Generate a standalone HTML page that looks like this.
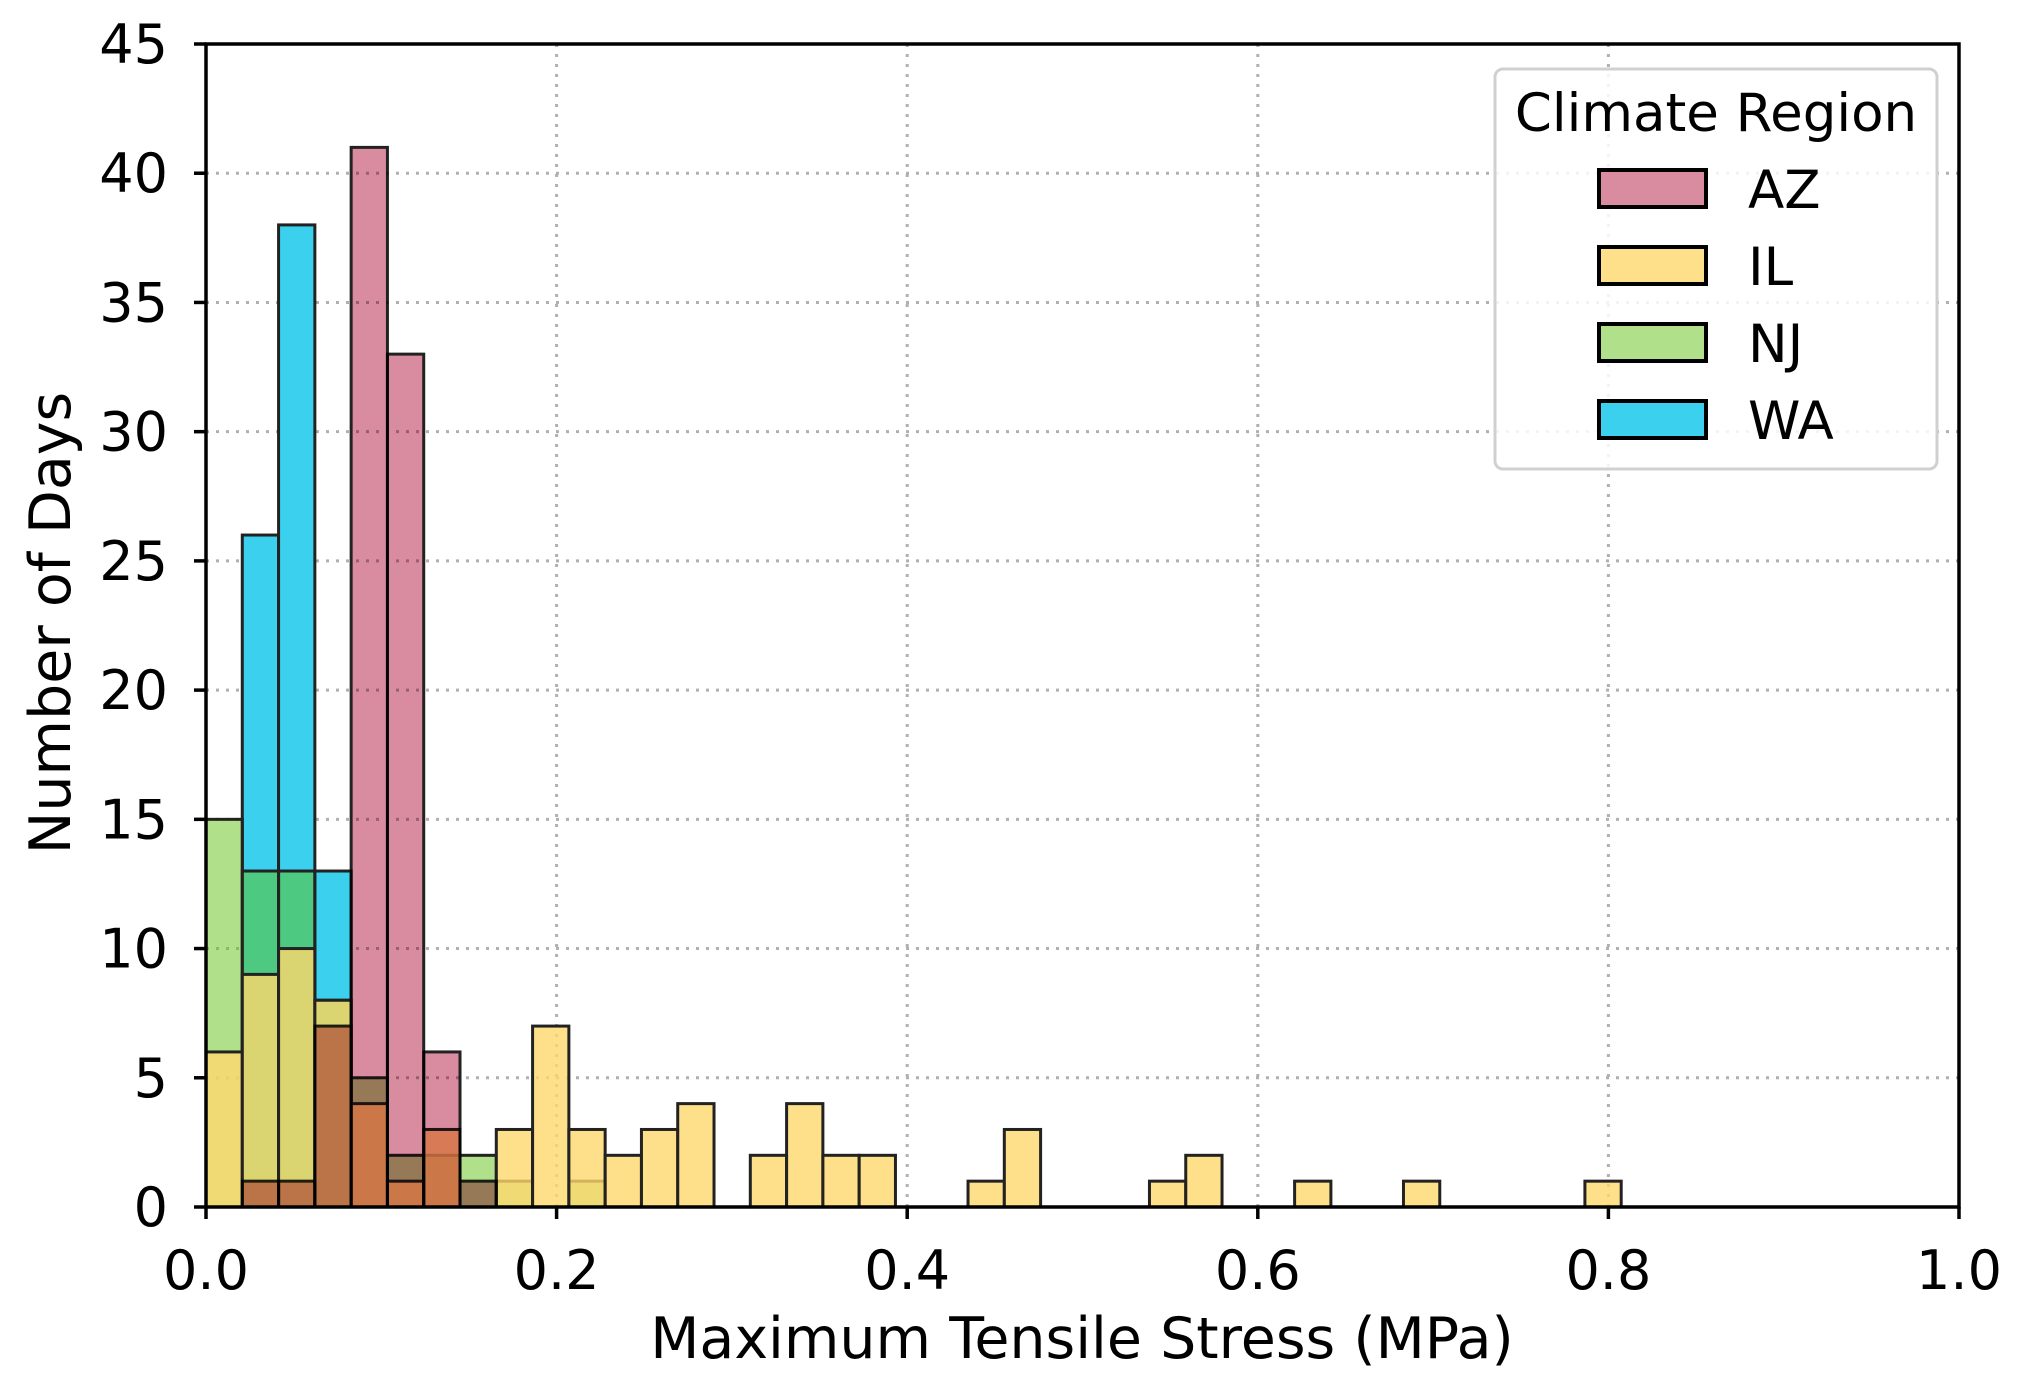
<!DOCTYPE html>
<html><head><meta charset="utf-8"><style>
html,body{margin:0;padding:0;background:#fff}
svg{display:block;font-family:"DejaVu Sans","Liberation Sans",sans-serif}
#bars rect.az{mix-blend-mode:multiply}
</style></head><body>
<svg id="chart" width="2020" height="1388" viewBox="0 0 2020 1388" xmlns="http://www.w3.org/2000/svg">
<rect x="0" y="0" width="2020" height="1388" fill="#fff"/>
<g id="grid"></g>
<g id="bars"></g>
<g id="axes"></g>
<text x="1082" y="1358" font-size="57" text-anchor="middle" fill="#000">Maximum Tensile Stress (MPa)</text>
<text transform="translate(70,623) rotate(-90)" font-size="57" text-anchor="middle" fill="#000">Number of Days</text>
<g id="legend">
<rect x="1495" y="69" width="442" height="400" rx="8" fill="#fff" fill-opacity="0.85" stroke="#d0d0d0" stroke-width="3"/>
<text x="1716" y="131" font-size="53" text-anchor="middle">Climate Region</text>
</g>
</svg>
<script>
const binWidth = 0.0207;
const regions = ["AZ","IL","NJ","WA"];
const colors = ["#d98ba0","#ffd86d","#61c115","#3ad0ee"];
const opacities = [1,0.8,0.5,1];
const legendColors = ["#d98ba0","#ffe08a","#b0e08a","#3ad0ee"];
const azCounts = [0,1,1,7,41,33,6,1];
const ilCounts = [6,9,10,8,4,1,3,0,3,7,3,2,3,4,0,2,4,2,2,0,0,1,3,0,0,0,1,2,0,0,1,0,0,1,0,0,0,0,1];
const njCounts = [15,13,13,8,5,2,2,2,1,0,1];
const waCounts = [0,26,38,13];
const seriesCounts = [azCounts, ilCounts, njCounts, waCounts];
const xTicks = [0,0.2,0.4,0.6,0.8,1.0];
const xTickLabels = ["0.0","0.2","0.4","0.6","0.8","1.0"];
const yTicks = [0,5,10,15,20,25,30,35,40,45];

const X0=206, X1=1959, Y0=1207, Y1=44;
const sx = v => X0 + (v-0)/(1-0)*(X1-X0);
const sy = v => Y0 - v/45*(Y0-Y1);
const NS="http://www.w3.org/2000/svg";
function mk(tag, attrs, parent){const e=document.createElementNS(NS,tag);for(const k in attrs)e.setAttribute(k,attrs[k]);parent.appendChild(e);return e;}

const grid=document.getElementById('grid');
xTicks.forEach((t,i)=>{ if(i>0&&i<xTicks.length-1){
  const l=mk('line',{x1:sx(t),x2:sx(t),y1:Y1,y2:Y0,stroke:'#b0b0b0','stroke-width':3,'stroke-dasharray':'3,7'},grid);
  
  
}});
yTicks.forEach((t,i)=>{ if(i>0&&i<yTicks.length-1){
  const l=mk('line',{x1:X0,x2:X1,y1:sy(t),y2:sy(t),stroke:'#b0b0b0','stroke-width':3,'stroke-dasharray':'3,7'},grid);
  
  
}});

const bars=document.getElementById('bars');
for(let si=seriesCounts.length-1; si>=0; si--){
  const arr=seriesCounts[si];
  arr.forEach((c,b)=>{
    if(c<=0) return;
    const x=sx(b*binWidth), w=sx((b+1)*binWidth)-x;
    const r=mk('rect',{x:x,y:sy(c),width:w,height:sy(0)-sy(c),fill:colors[si],'fill-opacity':opacities[si],stroke:'#222','stroke-width':3,'class':regions[si].toLowerCase()},bars);
    
    
  });
}

const axes=document.getElementById('axes');
mk('rect',{x:X0,y:Y1,width:X1-X0,height:Y0-Y1,fill:'none',stroke:'#000','stroke-width':3.5},axes);
xTicks.forEach((t,i)=>{
  mk('line',{x1:sx(t),x2:sx(t),y1:Y0,y2:Y0+12,stroke:'#000','stroke-width':3.5},axes);
  const tx=mk('text',{x:sx(t),y:1289,'font-size':54,'text-anchor':'middle'},axes);
  tx.textContent=xTickLabels[i];
  
  
});
yTicks.forEach(t=>{
  mk('line',{x1:X0-12,x2:X0,y1:sy(t),y2:sy(t),stroke:'#000','stroke-width':3.5},axes);
  const tx=mk('text',{x:X0-38,y:sy(t)+19,'font-size':54,'text-anchor':'end'},axes);
  tx.textContent=String(t);
  
  
});

const legend=document.getElementById('legend');
regions.forEach((r,i)=>{
  const y=170+i*77;
  const p=mk('rect',{x:1599,y:y,width:107,height:37,fill:legendColors[i],stroke:'#000','stroke-width':4},legend);
  
  
  const t=mk('text',{x:1748,y:y+38,'font-size':53},legend);
  t.textContent=r;
  
  
});
</script>
</body></html>
